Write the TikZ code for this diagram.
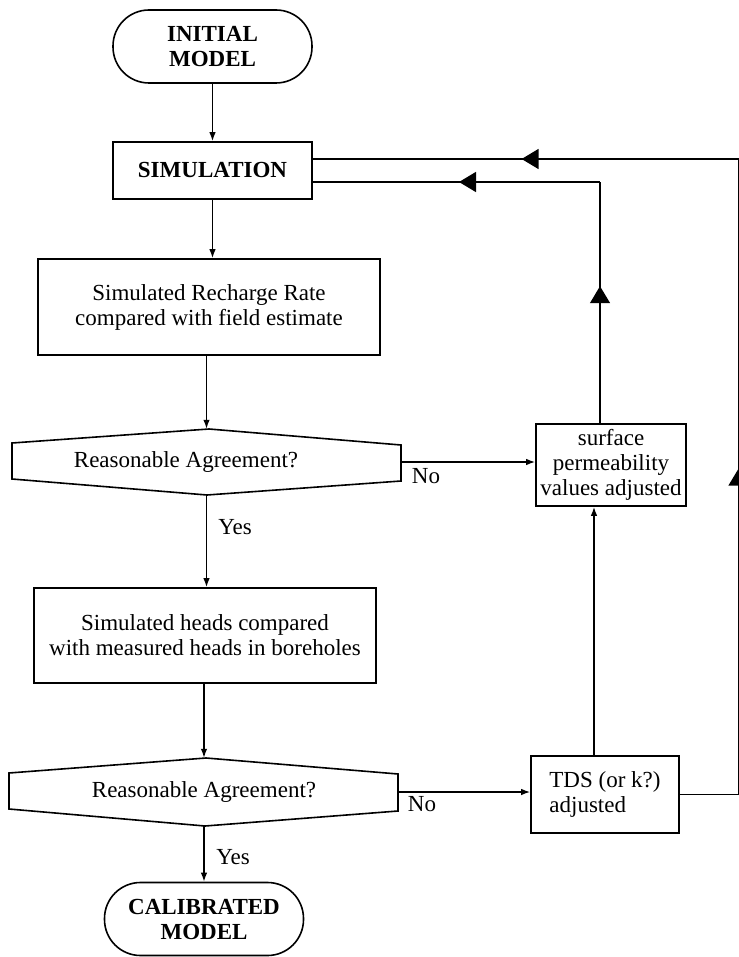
\documentclass[tikz,border=0pt]{standalone}
\usepackage{fontspec}
\setmainfont{Liberation Serif}
\usetikzlibrary{arrows.meta,decorations.markings}
\tikzset{
  txt/.style={font=\fontsize{23}{25}\selectfont, inner sep=0pt, align=center},
  term/.style={txt, draw, line width=1.6pt, rounded corners=36pt, minimum width=199pt, minimum height=73pt, font=\fontsize{23}{25}\selectfont\bfseries},
  proc/.style={txt, draw, line width=1.6pt},
  conn/.style={line width=1.4pt, -{Latex[length=9pt,width=6.5pt]}},
  fb/.style={line width=1.4pt},
  bigarrow/.style={postaction={decorate}, decoration={markings, mark=at position #1 with {\arrow{Triangle[length=17pt,width=20pt]}}}},
  hexa/.style={line width=1.6pt}
}
\begin{document}
\begin{tikzpicture}[x=1pt,y=-1pt]
\useasboundingbox (0,0) rectangle (738,957);
% nodes
\node[term] (init) at (212.5,46.5) {INITIAL\\MODEL};
\node[proc, minimum width=199pt, minimum height=57pt, font=\fontsize{23}{25}\selectfont\bfseries] (sim) at (212.5,170.5) {SIMULATION};
\node[proc, minimum width=342pt, minimum height=96pt] (rech) at (209,307) {Simulated Recharge Rate\\compared with field estimate};
\node[txt, minimum width=389pt, minimum height=66pt] (d1) at (206.5,462) {Reasonable Agreement?\hspace*{41pt}};
\draw[hexa] (209,429) -- (401,445) -- (401,481) -- (207,495) -- (12,479) -- (12,443) -- cycle;
\node[proc, minimum width=342pt, minimum height=95pt] (heads) at (205,635.5) {Simulated heads compared\\with measured heads in boreholes};
\node[txt, minimum width=389pt, minimum height=68pt] (d2) at (204,792) {Reasonable Agreement?};
\draw[hexa] (206,758) -- (398,774) -- (398,811) -- (205,826) -- (9,809) -- (9,773) -- cycle;
\node[term] (cal) at (204,919) {CALIBRATED\\MODEL};
\node[proc, minimum width=150pt, minimum height=82pt] (surf) at (611,465) {surface\\permeability\\values adjusted};
\node[proc, minimum width=148pt, minimum height=77pt, align=left] (tds) at (605,794.5) {TDS (or k?)\\adjusted};
% labels
\node[txt] (no1) at (426,476) {No};
\node[txt] (no2) at (422,804) {No};
\node[txt] (yes1) at (235,527) {Yes};
\node[txt] (yes2) at (233,857) {Yes};
% main flow
\draw[conn] (init) -- (sim);
\draw[conn] (sim.south) -- (sim.south |- rech.north);
\draw[conn] (rech.south -| d1.north) -- (d1.north);
\draw[conn] (d1.south) -- (d1.south |- heads.north);
\draw[conn] (heads.south -| d2.north) -- (d2.north);
\draw[conn] (d2.south) -- (cal.north);
\draw[conn] (d1.east) -- (d1.east -| surf.west);
\draw[conn] (d2.east) -- (d2.east -| tds.west);
\coordinate (vx) at (594,0);
\draw[conn] (tds.north -| vx) -- (surf.south -| vx);
% feedback loops
\coordinate (c2) at (600,182);
\draw[fb, bigarrow=137pt] (surf.north -| c2) -- (c2);
\draw[fb, bigarrow=141pt] (c2) -- (c2 -| sim.east);
\coordinate (c1) at (738.6,159);
\draw[fb] (tds.east) -- (tds.east -| c1) -- (c1) -- (c1 -| sim.east);
\draw[fb, bigarrow=326pt] (tds.east -| c1) -- (c1);
\draw[fb, bigarrow=217pt] (c1) -- (c1 -| sim.east);
\end{tikzpicture}
\end{document}
